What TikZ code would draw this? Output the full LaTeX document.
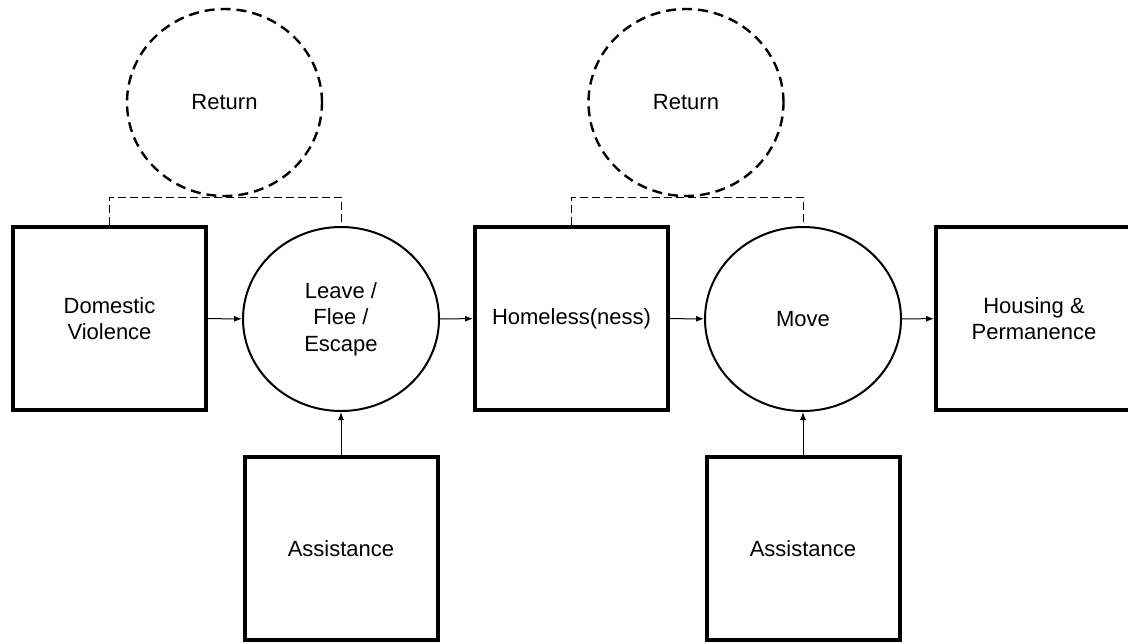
\documentclass[tikz,border=0pt]{standalone}
\usepackage{fontspec}
\setmainfont{Liberation Sans}
\usetikzlibrary{shapes.geometric,arrows.meta}

\begin{document}
\begin{tikzpicture}[x=0.5pt, y=-0.5pt,
  font=\fontsize{11}{13.3}\selectfont,
  stagebox/.style={draw, line width=2pt, rectangle, minimum width=96.5pt, minimum height=91.5pt, inner sep=0pt, align=center},
  stepcirc/.style={draw, line width=1pt, ellipse, minimum width=98pt, minimum height=92pt, inner sep=0pt, align=center},
  returncirc/.style={draw, line width=1.2pt, dash pattern=on 5pt off 3pt, ellipse, minimum width=97.5pt, minimum height=93.5pt, inner sep=0pt},
  flow/.style={line width=0.5pt, -{Latex[length=4pt,width=3pt]}},
  loopline/.style={line width=0.5pt, dash pattern=on 4pt off 2pt}]
  \useasboundingbox (0,0) rectangle (1128,643);
  % top row
  \node[stagebox] (dv) at (109.5,318.5) {Domestic\\Violence};
  \node[stepcirc] (leave) at (341,319) {Leave /\\Flee /\\Escape};
  \node[stagebox] (homeless) at (571.5,318.5) {Homeless(ness)};
  \node[stepcirc] (move) at (803,319) {Move};
  \node[stagebox, minimum width=98pt] (housing) at (1034,318.5) {Housing \&\\Permanence};
  % return loops
  \node[returncirc] (return1) at (224.5,102.5) {Return};
  \node[returncirc] (return2) at (686,102.5) {Return};
  % assistance
  \node[stagebox] (assist1) at (341,548.5) {Assistance};
  \node[stagebox] (assist2) at (803,548.5) {Assistance};
  % connectors
  \draw[flow] (dv) -- (leave);
  \draw[flow] (leave) -- (homeless);
  \draw[flow] (homeless) -- (move);
  \draw[flow] (move) -- (housing);
  \draw[flow] (assist1) -- (leave);
  \draw[flow] (assist2) -- (move);
  \draw[loopline] (dv.north) |- (return1.south) -| (leave.north);
  \draw[loopline] (homeless.north) |- (return2.south) -| (move.north);
\end{tikzpicture}
\end{document}
